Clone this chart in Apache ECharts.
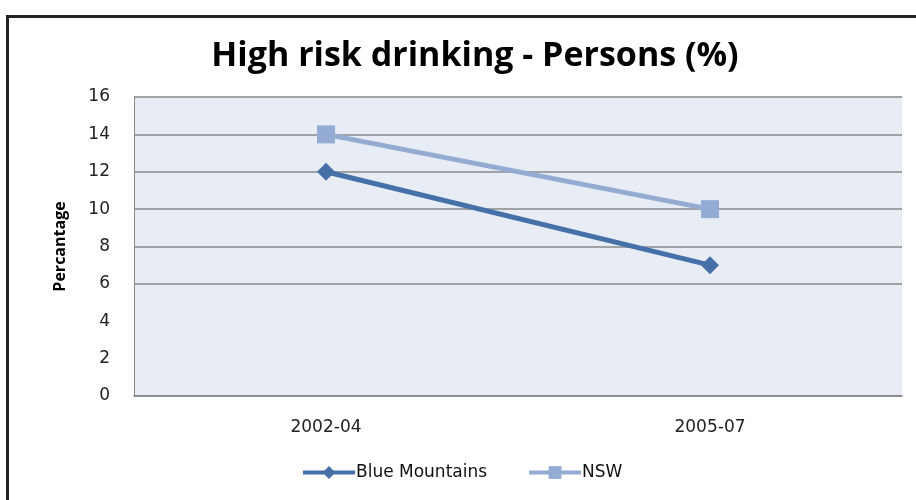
<!DOCTYPE html>
<html>
<head>
<meta charset="utf-8">
<script src="https://cdn.jsdelivr.net/npm/echarts@6/dist/echarts.min.js"></script>
<style>
    html, body { margin: 0; padding: 0; background: #fff; }
    #frame { position: absolute; left: 6px; top: 15px; width: 920px; height: 500px;
             border-left: 3px solid #222; border-top: 3px solid #222; }
    #chart { position: absolute; left: 0; top: 0; width: 916px; height: 500px; }
</style>
</head>
<body>
<div id="frame"></div>
<div id="chart"></div>
<script>
    // 数据
    const categories = ['2002-04', '2005-07'];
    const blueMountains = [12, 7];
    const nsw = [14, 10];
    const yTicks = [0, 2, 4, 6, 8, 10, 12, 14, 16];

    const chart = echarts.init(document.getElementById('chart'));
    const tickFont = 'DejaVu Sans';

    const option = {
        animation: false,
        title: {
            text: 'High risk drinking - Persons (%)',
            left: 470,
            top: 34,
            textAlign: 'center',
            textStyle: {
                fontFamily: 'Open Sans',
                fontWeight: 'bold',
                fontSize: 34,
                color: '#000'
            }
        },
        legend: {
            data: ['Blue Mountains', 'NSW'],
            left: 296,
            top: 459,
            itemWidth: 52,
            itemHeight: 16,
            itemGap: 40,
            lineStyle: { width: 4 },
            textStyle: { fontFamily: tickFont, fontSize: 17, color: '#111', padding: [0, 0, 0, -4] }
        },
        grid: {
            left: 134,
            right: 14,
            top: 97,
            bottom: 104,
            show: true,
            backgroundColor: '#e8ecf4',
            borderWidth: 0
        },
        xAxis: {
            type: 'category',
            data: categories,
            boundaryGap: true,
            axisLine: { show: true, lineStyle: { color: '#888', width: 1.5 } },
            axisTick: { show: false },
            axisLabel: { fontFamily: tickFont, fontSize: 17, color: '#222', margin: 23 }
        },
        yAxis: {
            type: 'value',
            min: yTicks[0],
            max: yTicks[yTicks.length - 1],
            interval: 2,
            name: 'Percantage',
            nameLocation: 'middle',
            nameGap: 66,
            nameTextStyle: { fontFamily: 'Open Sans', fontWeight: 'bold', fontSize: 16, color: '#000' },
            axisLine: { show: true, lineStyle: { color: '#888', width: 1 } },
            axisTick: { show: false },
            axisLabel: { fontFamily: tickFont, fontSize: 17, color: '#222', margin: 24 },
            splitLine: {
                show: true,
                lineStyle: {
                    color: ['#888', 'rgba(0,0,0,0)', 'rgba(0,0,0,0)', '#888', '#888', '#888', '#888', '#888', '#888'],
                    width: 1.5
                }
            }
        },
        series: [
            {
                name: 'Blue Mountains',
                type: 'line',
                data: blueMountains,
                symbol: 'diamond',
                symbolSize: 18,
                lineStyle: { width: 5, color: '#4570a8' },
                itemStyle: { color: '#4570a8' }
            },
            {
                name: 'NSW',
                type: 'line',
                data: nsw,
                symbol: 'rect',
                symbolSize: 18,
                lineStyle: { width: 5, color: '#94acd4' },
                itemStyle: { color: '#94acd4' }
            }
        ]
    };
    chart.setOption(option);

    window.onresize = function () {
        chart.resize();
    };
</script>
</body>
</html>
